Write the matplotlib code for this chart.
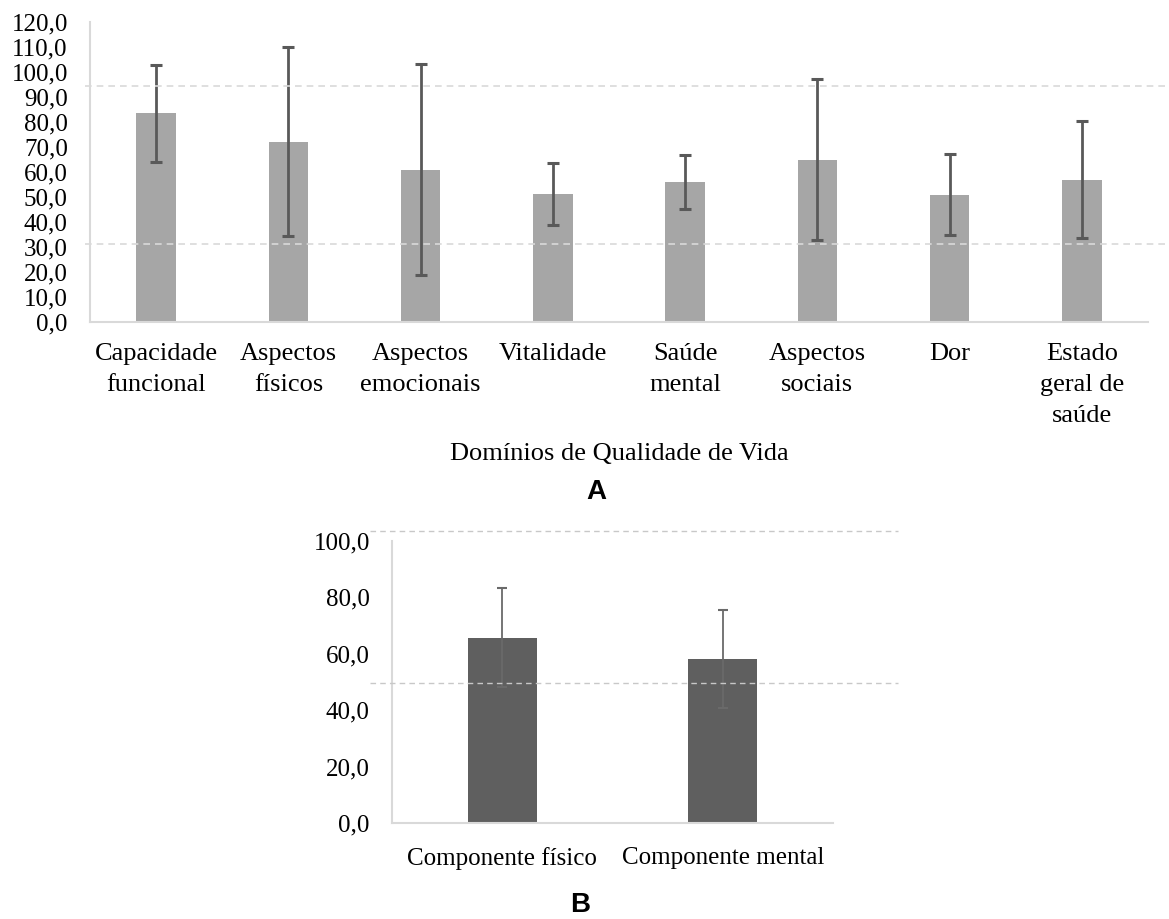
import matplotlib
matplotlib.use("Agg")
import matplotlib.pyplot as plt
import numpy as np

plt.rcParams['font.family'] = ['Liberation Serif', 'DejaVu Serif']

# Panel A - domains
dominios = ["Capacidade\nfuncional", "Aspectos\nfísicos", "Aspectos\nemocionais",
            "Vitalidade", "Saúde\nmental", "Aspectos\nsociais", "Dor",
            "Estado\ngeral de\nsaúde"]
media_a = [83.5, 72.2, 61.0, 51.1, 56.0, 65.0, 50.9, 57.0]
dp_a = [19.5, 37.7, 42.2, 12.4, 10.7, 32.3, 16.2, 23.5]
ref_a = [94.5, 31.3]

# Panel B - components
componentes = ["Componente físico", "Componente mental"]
media_b = [65.7, 58.1]
dp_b = [17.5, 17.3]
ref_b = [103.5, 49.7]

W, H = 1169, 919
fig = plt.figure(figsize=(W / 100, H / 100), dpi=100)

def fmt(v, pos):
    return f"{v:.1f}".replace(".", ",")

grid_col = "#d9d9d9"

######## A ########
axA = fig.add_axes([90 / W, 1 - 322 / H, 1058 / W, 300 / H])
xa = np.arange(len(dominios))
axA.bar(xa, media_a, width=0.30, color="#a6a6a6", zorder=2)
axA.errorbar(xa, media_a, yerr=dp_a, fmt="none", ecolor="#595959",
             elinewidth=2.0, capsize=4.5, capthick=2.2, zorder=3)
for r in ref_a:
    axA.axhline(r, xmin=-0.005, xmax=1.02, color=grid_col, ls=(0, (4, 3)),
                lw=1.2, clip_on=False, zorder=4)
axA.set_xlim(-0.5, len(dominios) - 0.5)
axA.set_ylim(0, 120)
axA.set_yticks(np.arange(0, 121, 10))
axA.yaxis.set_major_formatter(plt.FuncFormatter(fmt))
axA.set_xticks(xa)
axA.set_xticklabels(dominios, fontsize=19, linespacing=1.52, va="top")
axA.tick_params(axis="x", length=0, pad=15)
axA.tick_params(axis="y", length=0, pad=16, labelsize=18)
for s in ["top", "right"]:
    axA.spines[s].set_visible(False)
for s in ["left", "bottom"]:
    axA.spines[s].set_color(grid_col)
    axA.spines[s].set_linewidth(1.5)
axA.set_xlabel("Domínios de Qualidade de Vida", fontsize=19, labelpad=12)

######## B ########
axB = fig.add_axes([392 / W, 1 - 823 / H, 441 / W, 282 / H])
xb = np.arange(len(componentes))
axB.bar(xb, media_b, width=0.315, color="#5f5f5f", zorder=2)
axB.errorbar(xb, media_b, yerr=dp_b, fmt="none", ecolor="#6a6a6a",
             elinewidth=1.3, capsize=3.5, capthick=1.5, zorder=3)
for r in ref_b:
    axB.axhline(r, xmin=-0.05, xmax=1.147, color="#c8c8c8", ls=(0, (4, 3)),
                lw=1.0, clip_on=False, zorder=4)
axB.set_xlim(-0.5, 1.5)
axB.set_ylim(0, 100)
axB.set_yticks(np.arange(0, 101, 20))
axB.yaxis.set_major_formatter(plt.FuncFormatter(fmt))
axB.set_xticks(xb)
axB.set_xticklabels(componentes, fontsize=18)
axB.tick_params(axis="x", length=0, pad=17)
axB.tick_params(axis="y", length=0, pad=16, labelsize=18)
for s in ["top", "right"]:
    axB.spines[s].set_visible(False)
for s in ["left", "bottom"]:
    axB.spines[s].set_color(grid_col)
    axB.spines[s].set_linewidth(1.5)

fig.text(596 / W, 1 - 492 / H, "A", family="Liberation Sans", weight="bold",
         fontsize=20, ha="center", va="center")
fig.text(580 / W, 1 - 905 / H, "B", family="Liberation Sans", weight="bold",
         fontsize=20, ha="center", va="center")

fig.savefig("out.png", dpi=100)
